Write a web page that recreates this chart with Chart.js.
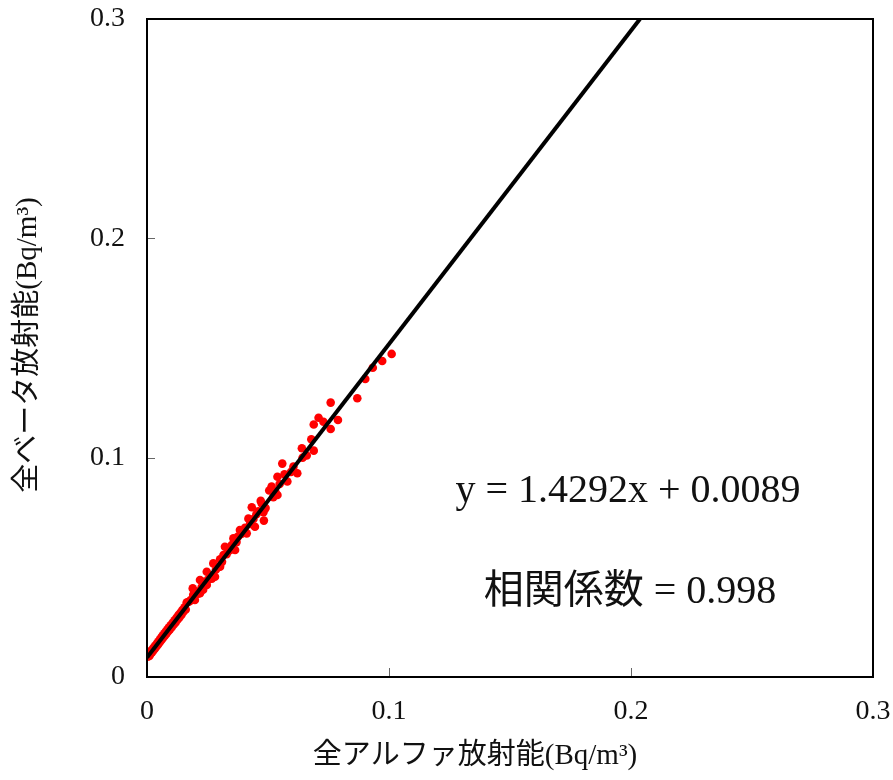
<!DOCTYPE html>
<html>
<head>
<meta charset="utf-8">
<script src="https://cdn.jsdelivr.net/npm/chart.js@4/dist/chart.umd.min.js"></script>
<style>
  body { margin: 0; background: #fff; }
  #wrap { width: 893px; height: 780px; position: relative; }
</style>
</head>
<body>
<div id="wrap"><canvas id="scatter"></canvas></div>
<script>
// 全アルファ放射能 (x) vs 全ベータ放射能 (y), Bq/m3
const alphaVals = [
  0.0003, 0.0007, 0.0010, 0.0012, 0.0015, 0.0018, 0.0021, 0.0024, 0.0027, 0.0030,
  0.0033, 0.0036, 0.0039, 0.0042, 0.0045, 0.0048, 0.0051, 0.0054, 0.0057, 0.0060,
  0.0063, 0.0066, 0.0069, 0.0072, 0.0075, 0.0078, 0.0081, 0.0084, 0.0087, 0.0090,
  0.0094, 0.0098, 0.0102, 0.0106, 0.0110, 0.0114, 0.0118, 0.0122, 0.0126, 0.0130,
  0.0134, 0.0138, 0.0142, 0.0146, 0.0150, 0.0155, 0.0160, 0.0164, 0.0170, 0.0176,
  0.0182, 0.0189, 0.0191, 0.0198, 0.0205, 0.0212, 0.0219, 0.0219, 0.0226, 0.0232,
  0.0240, 0.0247, 0.0247, 0.0254, 0.0262, 0.0268, 0.0274, 0.0281, 0.0285, 0.0292,
  0.0302, 0.0302, 0.0310, 0.0316, 0.0322, 0.0329, 0.0336, 0.0342, 0.0350, 0.0357,
  0.0364, 0.0370, 0.0376, 0.0384, 0.0390, 0.0398, 0.0405, 0.0412, 0.0419, 0.0426,
  0.0433, 0.0440, 0.0446, 0.0452, 0.0460, 0.0470, 0.0474, 0.0481, 0.0483, 0.0490,
  0.0505, 0.0515, 0.0522, 0.0530, 0.0539, 0.0539, 0.0548, 0.0559, 0.0568, 0.0580,
  0.0595, 0.0605, 0.0621, 0.0640, 0.0643, 0.0660, 0.0679, 0.0689, 0.0689, 0.0709,
  0.0729, 0.0759, 0.0759, 0.0789, 0.0869, 0.0902, 0.0933, 0.0972, 0.1011
];
const betaVals = [
  0.0093, 0.0104, 0.0096, 0.0113, 0.0106, 0.0121, 0.0113, 0.0129, 0.0122, 0.0138,
  0.0130, 0.0145, 0.0139, 0.0155, 0.0147, 0.0163, 0.0156, 0.0172, 0.0165, 0.0182,
  0.0173, 0.0190, 0.0182, 0.0199, 0.0190, 0.0207, 0.0199, 0.0216, 0.0208, 0.0225,
  0.0216, 0.0236, 0.0227, 0.0247, 0.0238, 0.0259, 0.0249, 0.0270, 0.0261, 0.0282,
  0.0272, 0.0293, 0.0283, 0.0305, 0.0296, 0.0318, 0.0308, 0.0340, 0.0342, 0.0345,
  0.0352, 0.0404, 0.0375, 0.0351, 0.0390, 0.0380, 0.0442, 0.0382, 0.0410, 0.0398,
  0.0435, 0.0480, 0.0420, 0.0445, 0.0460, 0.0448, 0.0518, 0.0457, 0.0490, 0.0500,
  0.0537, 0.0503, 0.0525, 0.0556, 0.0594, 0.0560, 0.0575, 0.0578, 0.0602, 0.0632,
  0.0579, 0.0615, 0.0640, 0.0670, 0.0652, 0.0660, 0.0680, 0.0655, 0.0722, 0.0698,
  0.0774, 0.0720, 0.0685, 0.0742, 0.0755, 0.0803, 0.0791, 0.0751, 0.0713, 0.0770,
  0.0850, 0.0868, 0.0820, 0.0845, 0.0913, 0.0830, 0.0880, 0.0973, 0.0924, 0.0891,
  0.0935, 0.0959, 0.0929, 0.1043, 0.1000, 0.1010, 0.1084, 0.1151, 0.1032, 0.1182,
  0.1164, 0.1251, 0.1131, 0.1172, 0.1271, 0.1359, 0.1410, 0.1441, 0.1473
];

// regression line end points: y = 1.4292x + 0.0089
const fitX = [0, 0.2037];
const fitY = [0.0089, 0.3];

const axisTicks = [0, 0.1, 0.2, 0.3];
const eqText = "y = 1.4292x + 0.0089";
const corrText = "相関係数 = 0.998";
const xTitle = "全アルファ放射能(Bq/m³)";
const yTitle = "全ベータ放射能(Bq/m³)";

const serif = "'Liberation Serif', 'Noto Sans CJK JP', serif";

const points = alphaVals.map((x, i) => ({ x: x, y: betaVals[i] }));
const fitLine = fitX.map((x, i) => ({ x: x, y: fitY[i] }));

// frame, inward ticks, titles and the fit text
const decorations = {
  id: "decorations",
  afterDraw(chart) {
    const ctx = chart.ctx;
    const a = chart.chartArea;
    const sx = chart.scales.x, sy = chart.scales.y;
    ctx.save();

    ctx.strokeStyle = "#666";
    ctx.lineWidth = 1;
    axisTicks.slice(1, -1).forEach(v => {
      const px = Math.round(sx.getPixelForValue(v)) + 0.5;
      ctx.beginPath(); ctx.moveTo(px, a.bottom); ctx.lineTo(px, a.bottom - 9); ctx.stroke();
      const py = Math.round(sy.getPixelForValue(v)) + 0.5;
      ctx.beginPath(); ctx.moveTo(a.left, py); ctx.lineTo(a.left + 8, py); ctx.stroke();
    });

    ctx.strokeStyle = "#000";
    ctx.lineWidth = 2;
    ctx.strokeRect(a.left, a.top, a.right - a.left, a.bottom - a.top);

    ctx.fillStyle = "#111";
    ctx.textAlign = "center";
    ctx.textBaseline = "alphabetic";
    ctx.font = "40px " + serif;
    ctx.fillText(eqText, 628, 502);
    ctx.fillText(corrText, 630, 603);

    ctx.font = "29px " + serif;
    ctx.textBaseline = "middle";
    ctx.fillText(xTitle, 475, 756);
    ctx.translate(28, 345);
    ctx.rotate(-Math.PI / 2);
    ctx.fillText(yTitle, 0, 0);
    ctx.restore();
  }
};

const tickFont = { family: serif, size: 28 };

// drop the extra room Chart.js keeps for the end labels
function noEndPadding(s) {
  s.paddingTop = 0; s.paddingBottom = 0; s.paddingLeft = 0; s.paddingRight = 0;
}

new Chart(document.getElementById("scatter"), {
  type: "scatter",
  data: {
    datasets: [
      {
        label: "fit",
        data: fitLine,
        showLine: true,
        borderColor: "#000",
        borderWidth: 4,
        pointRadius: 0
      },
      {
        label: "data",
        data: points,
        backgroundColor: "#ff0000",
        borderWidth: 0,
        pointRadius: 4.3
      }
    ]
  },
  options: {
    responsive: true,
    maintainAspectRatio: false,
    animation: false,
    layout: { padding: { top: 19, right: 20, left: 0, bottom: 0 } },
    plugins: { legend: { display: false }, tooltip: { enabled: false } },
    scales: {
      x: {
        type: "linear",
        min: 0, max: 0.3,
        afterBuildTicks: s => { s.ticks = axisTicks.map(v => ({ value: v })); },
        afterFit: s => { s.height = 103; noEndPadding(s); },
        grid: { display: false, drawTicks: false },
        border: { display: false },
        ticks: {
          font: tickFont, color: "#111", padding: 18, maxRotation: 0,
          callback: v => v === 0 ? "0" : v.toFixed(1)
        }
      },
      y: {
        type: "linear",
        min: 0, max: 0.3,
        afterBuildTicks: s => { s.ticks = axisTicks.map(v => ({ value: v })); },
        afterFit: s => { s.width = 147; noEndPadding(s); },
        grid: { display: false, drawTicks: false },
        border: { display: false },
        ticks: {
          font: tickFont, color: "#111", padding: 22,
          callback: v => v === 0 ? "0" : v.toFixed(1)
        }
      }
    }
  },
  plugins: [decorations]
});
</script>
</body>
</html>
